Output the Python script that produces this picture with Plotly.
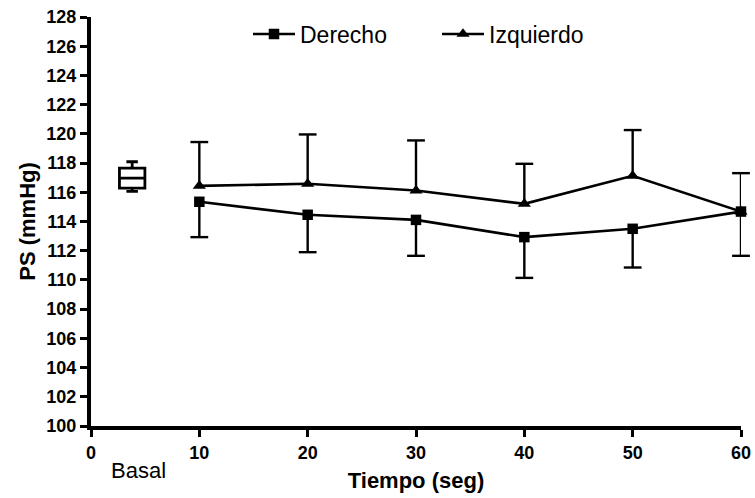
import plotly.graph_objects as go

# Systolic pressure (mmHg) over time (s), right vs left side
tiempo = [10, 20, 30, 40, 50, 60]
derecho = [115.35, 114.46, 114.11, 112.93, 113.50, 114.68]
derecho_sd = [2.42, 2.56, 2.46, 2.79, 2.65, 3.03]
izquierdo = [116.44, 116.58, 116.12, 115.21, 117.13, 114.68]
izquierdo_sd = [3.00, 3.38, 3.43, 2.74, 3.13, 2.63]

# Baseline box summary
basal_x = [3.8]
basal_lower = [116.06]
basal_q1 = [116.29]
basal_median = [116.97]
basal_q3 = [117.66]
basal_upper = [118.09]

x_ticks = [0, 10, 20, 30, 40, 50, 60]
y_ticks = list(range(100, 129, 2))

FONT = "Liberation Sans, Arial, sans-serif"
W, H = 755, 498
ML, MR, MT, MB = 91, 14, 17, 72
PW, PH = W - ML - MR, H - MT - MB

fig = go.Figure()

fig.add_trace(go.Box(
    x=basal_x, q1=basal_q1, median=basal_median, q3=basal_q3,
    lowerfence=basal_lower, upperfence=basal_upper,
    width=2.35, whiskerwidth=0.45, boxpoints=False,
    fillcolor="white", line=dict(color="black", width=2.8),
    showlegend=False, hoverinfo="skip",
))

# One-sided error bars: left side upward, right side downward
fig.add_trace(go.Scatter(
    x=tiempo, y=izquierdo, mode="markers", marker=dict(opacity=0),
    error_y=dict(type="data", symmetric=False, array=izquierdo_sd,
                 arrayminus=[0] * len(tiempo), width=0, thickness=2.4,
                 color="black"),
    showlegend=False, cliponaxis=False, hoverinfo="skip",
))
fig.add_trace(go.Scatter(
    x=tiempo, y=[m + s for m, s in zip(izquierdo, izquierdo_sd)],
    mode="markers",
    marker=dict(symbol="line-ew", size=12.7, line=dict(color="black", width=2.4)),
    showlegend=False, cliponaxis=False, hoverinfo="skip",
))
fig.add_trace(go.Scatter(
    x=tiempo, y=derecho, mode="markers", marker=dict(opacity=0),
    error_y=dict(type="data", symmetric=False, array=[0] * len(tiempo),
                 arrayminus=derecho_sd, width=0, thickness=2.4,
                 color="black"),
    showlegend=False, cliponaxis=False, hoverinfo="skip",
))
fig.add_trace(go.Scatter(
    x=tiempo, y=[m - s for m, s in zip(derecho, derecho_sd)],
    mode="markers",
    marker=dict(symbol="line-ew", size=12.7, line=dict(color="black", width=2.4)),
    showlegend=False, cliponaxis=False, hoverinfo="skip",
))

fig.add_trace(go.Scatter(
    x=tiempo, y=izquierdo, mode="lines+markers", name="Izquierdo",
    line=dict(color="black", width=2.6),
    marker=dict(symbol="triangle-up", size=11.5, color="black"),
    cliponaxis=False, legend="legend2",
))
fig.add_trace(go.Scatter(
    x=tiempo, y=derecho, mode="lines+markers", name="Derecho",
    line=dict(color="black", width=2.6),
    marker=dict(symbol="square", size=10.5, color="black"),
    cliponaxis=False, legend="legend",
))


def px_x(p):
    return (p - ML) / PW


def px_y(p):
    return 1 - (p - MT) / PH


legend_common = dict(
    orientation="h", xanchor="left", yanchor="middle",
    font=dict(family=FONT, size=23, color="black"),
    bgcolor="rgba(0,0,0,0)", borderwidth=0, itemwidth=42,
    tracegroupgap=0,
)

fig.update_layout(
    width=W, height=H,
    margin=dict(l=ML, r=MR, t=MT, b=MB, pad=0, autoexpand=False),
    paper_bgcolor="white", plot_bgcolor="white",
    font=dict(family=FONT, color="black"),
    legend=dict(x=px_x(248), y=px_y(34), **legend_common),
    legend2=dict(x=px_x(437), y=px_y(34), **legend_common),
    xaxis=dict(
        range=[0, 60], tickvals=x_ticks, ticktext=[str(v) for v in x_ticks],
        showgrid=False, zeroline=False, automargin=False,
        showline=True, linecolor="black", linewidth=4,
        ticks="outside", ticklen=7, tickwidth=3.2, tickcolor="black",
        tickfont=dict(family=FONT, size=18, color="black", weight="bold"),
        title=dict(text="Tiempo (seg)", standoff=12,
                   font=dict(family=FONT, size=22, color="black", weight="bold")),
    ),
    yaxis=dict(
        range=[100, 128], tickvals=y_ticks, ticktext=[str(v) for v in y_ticks],
        showgrid=False, zeroline=False, automargin=False,
        showline=True, linecolor="black", linewidth=4,
        ticks="outside", ticklen=7, tickwidth=3.2, tickcolor="black",
        tickfont=dict(family=FONT, size=18, color="black", weight="bold"),
        title=dict(text="PS (mmHg)", standoff=6,
                   font=dict(family=FONT, size=22, color="black", weight="bold")),
    ),
    annotations=[dict(
        text="Basal", xref="paper", yref="paper",
        x=px_x(138), y=px_y(470), xanchor="center", yanchor="middle",
        showarrow=False, font=dict(family=FONT, size=22, color="black"),
    )],
)

fig.write_html("out.html")
